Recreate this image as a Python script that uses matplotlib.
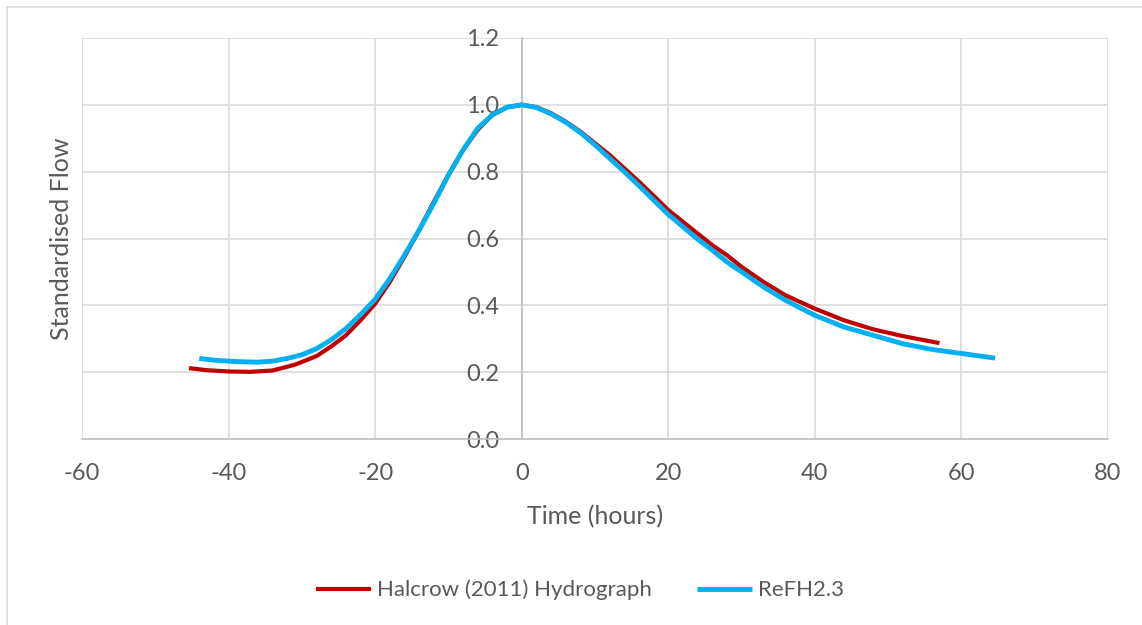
import matplotlib.pyplot as plt
from matplotlib.patches import Rectangle

# valores
t_halcrow = [-45.4, -43, -40, -37, -34, -31, -28, -26, -24, -22, -20, -18, -16, -14, -12, -10, -8, -6, -4, -2, 0,
             2, 4, 6, 8, 10, 12, 14, 16, 18, 20, 22, 24, 26, 28, 30, 33, 36, 40, 44, 48, 52, 57]
q_halcrow = [0.212, 0.206, 0.202, 0.201, 0.205, 0.222, 0.248, 0.277, 0.31, 0.355, 0.405, 0.47, 0.545, 0.625,
             0.71, 0.79, 0.865, 0.925, 0.97, 0.993, 1.0,
             0.993, 0.975, 0.95, 0.92, 0.885, 0.85, 0.81, 0.77, 0.728, 0.685, 0.65, 0.615, 0.58, 0.55, 0.515,
             0.47, 0.43, 0.39, 0.355, 0.328, 0.308, 0.287]

t_refh = [-44, -42, -40, -38, -36, -34, -32, -30, -28, -26, -24, -22, -20, -18, -16, -14, -12, -10, -8, -6, -4,
          -2, 0, 2, 4, 6, 8, 10, 12, 14, 16, 18, 20, 22, 24, 26, 28, 30, 33, 36, 40, 44, 48, 52, 56, 60, 64.6]
q_refh = [0.241, 0.236, 0.233, 0.231, 0.230, 0.233, 0.241, 0.252, 0.27, 0.297, 0.33, 0.372, 0.418, 0.48, 0.55,
          0.625, 0.705, 0.79, 0.865, 0.93, 0.97, 0.993, 1.0,
          0.992, 0.973, 0.948, 0.917, 0.88, 0.84, 0.8, 0.758, 0.715, 0.672, 0.635, 0.598, 0.565, 0.53, 0.5,
          0.455, 0.415, 0.37, 0.335, 0.31, 0.285, 0.268, 0.256, 0.242]

x_ticks = [-60, -40, -20, 0, 20, 40, 60, 80]
y_ticks = [0.0, 0.2, 0.4, 0.6, 0.8, 1.0, 1.2]

plt.rcParams['font.family'] = ['Lato', 'DejaVu Sans']
plt.rcParams['axes.unicode_minus'] = False
gris = '#595959'

fig = plt.figure(figsize=(11.42, 6.25), dpi=100)
# marco exterior
fig.patches.append(Rectangle((7 / 1142, -0.1), 1.2, 1 - 7 / 625 + 0.1, transform=fig.transFigure,
                             fill=False, edgecolor='#d9d9d9', linewidth=1.2))

ax = fig.add_axes([82 / 1142, 1 - 439 / 625, (1108 - 82) / 1142, (439 - 38) / 625])

ax.plot(t_halcrow, q_halcrow, color='#C00000', linewidth=3, label='Halcrow (2011) Hydrograph', zorder=3,
        solid_capstyle='butt')
ax.plot(t_refh, q_refh, color='#00B0F0', linewidth=3.5, label='ReFH2.3', zorder=4, solid_capstyle='butt')

ax.set_xlim(-60, 80)
ax.set_ylim(0, 1.2)
ax.set_xticks(x_ticks)
ax.set_yticks(y_ticks)
ax.set_yticklabels(['%.1f' % v for v in y_ticks])
ax.grid(True, color='#d9d9d9', linewidth=1.2)
ax.set_axisbelow(True)

ax.spines['left'].set_position(('data', 0))
ax.spines['left'].set_color('#bfbfbf')
ax.spines['bottom'].set_color('#bfbfbf')
ax.spines['left'].set_linewidth(1.2)
ax.spines['bottom'].set_linewidth(1.2)
ax.spines['right'].set_visible(False)
ax.spines['top'].set_visible(False)

ax.tick_params(length=0, labelsize=17, colors=gris)
ax.tick_params(axis='x', pad=17)
ax.tick_params(axis='y', pad=16)

ax.set_xlabel('Time (hours)', fontsize=18, color=gris)
ax.set_ylabel('Standardised Flow', fontsize=18, color=gris)
ax.xaxis.set_label_coords(0.5, -0.165)
ax.yaxis.set_label_coords(-0.009, 0.5)

fig.legend(loc='center', bbox_to_anchor=(0.508, 1 - 590 / 625), ncol=2, frameon=False, fontsize=16,
           labelcolor=gris, handlelength=2.5, handletextpad=0.27, columnspacing=2.0)

fig.savefig('out.png', dpi=100)
